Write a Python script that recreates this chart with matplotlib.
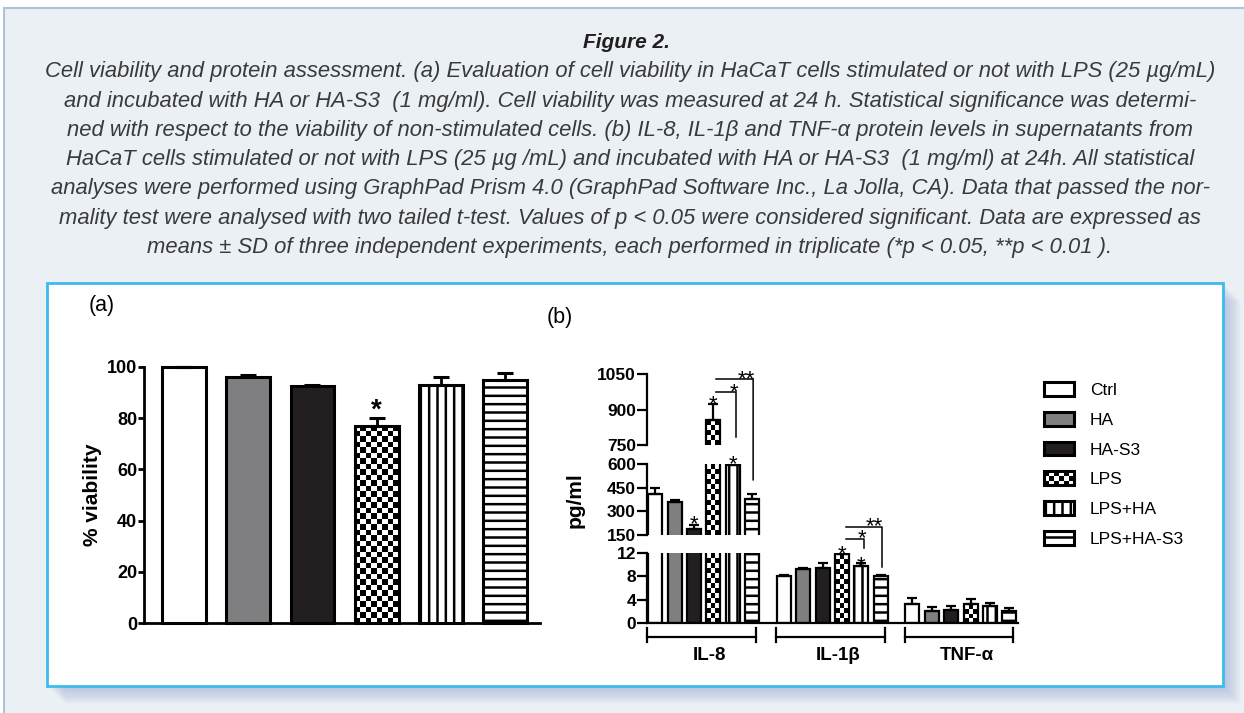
import numpy as np
import matplotlib
matplotlib.use("Agg")
import matplotlib.pyplot as plt
from matplotlib.patches import Rectangle, ConnectionPatch
from matplotlib.legend_handler import HandlerPatch

plt.rcParams['font.family'] = ['Liberation Sans', 'DejaVu Sans']
plt.rcParams['hatch.linewidth'] = 1.8

# data
groups = ["Ctrl", "HA", "HA-S3", "LPS", "LPS+HA", "LPS+HA-S3"]
viability = [100, 96, 92.5, 77, 93, 95]
viability_sd = [0, 1.0, 0.4, 3.0, 3.0, 2.5]

cytokines = ["IL-8", "IL-1β", "TNF-α"]
il8 = [410, 362, 190, 855, 592, 378]
il8_sd = [35, 8, 22, 70, 8, 30]
il1b = [8.1, 9.3, 9.5, 11.8, 9.8, 8.0]
il1b_sd = [0.2, 0.15, 0.8, 0.15, 0.5, 0.2]
tnf = [3.3, 2.0, 2.2, 3.2, 3.0, 2.0]
tnf_sd = [1.0, 0.7, 0.7, 1.0, 0.5, 0.5]

caption = [
    "Cell viability and protein assessment. (a) Evaluation of cell viability in HaCaT cells stimulated or not with LPS (25 µg/mL)",
    "and incubated with HA or HA-S3  (1 mg/ml). Cell viability was measured at 24 h. Statistical significance was determi-",
    "ned with respect to the viability of non-stimulated cells. (b) IL-8, IL-1β and TNF-α protein levels in supernatants from",
    "HaCaT cells stimulated or not with LPS (25 µg /mL) and incubated with HA or HA-S3  (1 mg/ml) at 24h. All statistical",
    "analyses were performed using GraphPad Prism 4.0 (GraphPad Software Inc., La Jolla, CA). Data that passed the nor-",
    "mality test were analysed with two tailed t-test. Values of p < 0.05 were considered significant. Data are expressed as",
    "means ± SD of three independent experiments, each performed in triplicate (*p < 0.05, **p < 0.01 ).",
]

# bar styles per treatment
fills = ['white', '#7f7f82', '#231f20', 'white', 'white', 'white']
hatches = [None, None, None, 'checker', '||', '--']

W, H = 1244, 713
fig = plt.figure(figsize=(W / 100, H / 100), dpi=100)
fig.patch.set_facecolor('white')


def px_rect(left, top, right, bottom):
    return [left / W, 1 - bottom / H, (right - left) / W, (bottom - top) / H]


def prect(left, top, right, bottom, **kw):
    l, b, w, h = px_rect(left, top, right, bottom)
    r = Rectangle((l, b), w, h, transform=fig.transFigure, **kw)
    fig.add_artist(r)
    return r


# page background, shadow and white frame
prect(4, 8, 1260, 730, facecolor='#ebf0f5', edgecolor='#aac3da', lw=1.5, zorder=-10)
for d in range(18, 0, -1):
    prect(47 + d, 283 + d, 1223 + d, 686 + d, facecolor='#8ea5d0', edgecolor='none', alpha=0.035, zorder=-9)
prect(47, 283, 1223, 686, facecolor='white', edgecolor='#3dbbee', lw=2, zorder=-8)

# caption
fig.text(626 / W, 1 - 42 / H, "Figure 2.", ha='center', va='center', fontsize=15,
         fontweight='bold', style='italic', color='#231f20')
for i, line in enumerate(caption):
    fig.text(630 / W, 1 - (72 + 29.2 * i) / H, line, ha='center', va='center',
             fontsize=15.8, style='italic', color='#3a3a3a')


def checker(ax, bar, cell_px):
    x0, w = bar.get_x(), bar.get_width()
    lo, hi = ax.get_ylim()
    y0 = max(bar.get_y(), lo)
    y1 = min(bar.get_y() + bar.get_height(), hi)
    if y1 <= y0:
        return
    p0 = ax.transData.transform((x0, y0))
    p1 = ax.transData.transform((x0 + w, y1))
    nx = max(int(round((p1[0] - p0[0]) / cell_px)), 1)
    ny = max(int(round((p1[1] - p0[1]) / cell_px)), 1)
    grid = np.add.outer(np.arange(ny), np.arange(nx)) % 2
    im = ax.imshow(grid, cmap='gray', vmin=0, vmax=1, extent=(x0, x0 + w, y0, y1),
                   aspect='auto', interpolation='nearest', origin='lower', zorder=2)
    im.set_clip_path(bar)


def style_bars(ax, bars, cell_px):
    for k, b in enumerate(bars):
        i = k % len(groups)
        b.set_facecolor(fills[i])
        if hatches[i] == 'checker':
            b.set_facecolor('none')
            b.set_zorder(3)
            checker(ax, b, cell_px)
        elif hatches[i]:
            b.set_hatch(hatches[i])


def star(ax, x, y, s, size, bold=False):
    ax.annotate(s, (x, y), xytext=(0, -0.57 * size), textcoords='offset points',
                ha='center', va='baseline', fontsize=size,
                fontweight='bold' if bold else 'normal', annotation_clip=False)


def bold_ticks(ax, size):
    for t in ax.get_yticklabels():
        t.set_fontweight('bold')
        t.set_fontsize(size)


# ---------------- panel (a)
ax_a = fig.add_axes(px_rect(144, 367, 540, 623))
ax_a.set_facecolor('none')
xa = np.arange(len(groups))
ax_a.set_xlim(-0.62, 5.54)
ax_a.set_ylim(0, 100)
bars_a = ax_a.bar(xa, viability, width=0.68, edgecolor='black', linewidth=2.2,
                  clip_on=False, zorder=2)
style_bars(ax_a, bars_a, 5.5)
ax_a.errorbar(xa, viability, yerr=[np.zeros(len(xa)), viability_sd], fmt='none',
              ecolor='black', elinewidth=2, capsize=6, capthick=2.2, clip_on=False, zorder=4)
star(ax_a, xa[3], 86.3, "*", 20, bold=True)
ax_a.set_yticks([0, 20, 40, 60, 80, 100])
ax_a.set_xticks([])
for s in ['top', 'right']:
    ax_a.spines[s].set_visible(False)
for s in ['left', 'bottom']:
    ax_a.spines[s].set_linewidth(2)
ax_a.tick_params(axis='y', direction='out', length=4, width=2, pad=1)
bold_ticks(ax_a, 13)
fig.text(92 / W, 1 - 495 / H, "% viability", rotation=90, ha='center', va='center',
         fontsize=15, fontweight='bold')
fig.text(102 / W, 1 - 305 / H, "(a)", ha='center', va='center', fontsize=15.5)

# ---------------- panel (b), broken y axis
ax_bot = fig.add_axes(px_rect(647, 553, 1018, 623))
ax_mid = fig.add_axes(px_rect(647, 464, 1018, 535))
ax_top = fig.add_axes(px_rect(647, 374, 1018, 445))
axes_b = [ax_bot, ax_mid, ax_top]
limits = [(0, 12), (150, 600), (750, 1050)]
tick_sets = [[0, 4, 8, 12], [150, 300, 450, 600], [750, 900, 1050]]

xg = np.arange(len(cytokines))[:, None] * 6.63 + np.arange(len(groups))[None, :]
xb = xg.ravel()
vb = np.array([il8, il1b, tnf]).ravel()
sb = np.array([il8_sd, il1b_sd, tnf_sd]).ravel()

for ax, lim, ticks in zip(axes_b, limits, tick_sets):
    ax.set_facecolor('none')
    ax.set_xlim(-0.42, 18.7)
    ax.set_ylim(lim)
    bars = ax.bar(xb, vb, width=0.72, edgecolor='black', linewidth=1.6, zorder=2)
    style_bars(ax, bars, 5)
    ax.errorbar(xb, vb, yerr=[np.zeros(len(xb)), sb], fmt='none', ecolor='black',
                elinewidth=1.6, capsize=3.5, capthick=1.6, zorder=4)
    ax.set_yticks(ticks)
    ax.set_xticks([])
    for s in ['top', 'right', 'bottom']:
        ax.spines[s].set_visible(False)
    ax.spines['left'].set_linewidth(1.6)
    ax.tick_params(axis='y', direction='out', length=7, width=1.6, pad=1)
    bold_ticks(ax, 12.5)
ax_bot.spines['bottom'].set_visible(True)
ax_bot.spines['bottom'].set_linewidth(1.6)

# significance marks, IL-8
lw_sig = 1.1
star(ax_mid, xg[0, 2], 258, "*", 16)
star(ax_top, xg[0, 3], 949, "*", 16)
star(ax_mid, xg[0, 4], 644, "*", 16)
ax_top.plot([xg[0, 3] + 0.15, xg[0, 4] + 0.18, xg[0, 4] + 0.18], [974, 974, 784],
            color='black', lw=lw_sig, clip_on=False)
star(ax_top, xg[0, 4] + 0.05, 1003, "*", 16)
ax_top.plot([xg[0, 3] + 0.15, xg[0, 5] + 0.05], [1029, 1029], color='black', lw=lw_sig,
            clip_on=False)
fig.add_artist(ConnectionPatch((xg[0, 5] + 0.05, 1029), (xg[0, 5] + 0.05, 498),
                               coordsA=ax_top.transData, coordsB=ax_mid.transData,
                               lw=lw_sig, color='black'))
star(ax_top, xg[0, 5] - 0.3, 1058, "**", 16)

# significance marks, IL-1b
star(ax_bot, xg[1, 3], 12.9, "*", 16)
star(ax_bot, xg[1, 4], 11.1, "*", 16)
ax_bot.plot([xg[1, 3] + 0.2, xg[1, 4] + 0.15, xg[1, 4] + 0.15], [14.4, 14.4, 12.9],
            color='black', lw=lw_sig, clip_on=False)
star(ax_bot, xg[1, 4] + 0.05, 15.6, "*", 16)
ax_bot.plot([xg[1, 3] + 0.2, xg[1, 5] + 0.05, xg[1, 5] + 0.05], [16.5, 16.5, 9.6],
            color='black', lw=lw_sig, clip_on=False)
star(ax_bot, xg[1, 5] - 0.35, 17.7, "**", 16)

# group brackets under the axis
tr = ax_bot.get_xaxis_transform()
for g, name in enumerate(cytokines):
    x0, x1 = xg[g, 0] - 0.4, xg[g, -1] + 0.2
    ax_bot.plot([x0, x1], [-0.2, -0.2], transform=tr, color='black', lw=1.6, clip_on=False)
    ax_bot.plot([x0, x0], [-0.07, -0.27], transform=tr, color='black', lw=1.6, clip_on=False)
    ax_bot.plot([x1, x1], [-0.07, -0.27], transform=tr, color='black', lw=1.6, clip_on=False)
    ax_bot.text((x0 + x1) / 2 + 0.4, -0.46, name, transform=tr, ha='center', va='center',
                fontsize=13.5, fontweight='bold')

fig.text(575 / W, 1 - 500 / H, "pg/ml", rotation=90, ha='center', va='center',
         fontsize=15, fontweight='bold')
fig.text(560 / W, 1 - 317 / H, "(b)", ha='center', va='center', fontsize=15.5)


# legend
class HandlerChecker(HandlerPatch):
    def create_artists(self, legend, orig_handle, xdescent, ydescent, width, height,
                       fontsize, trans):
        arts = []
        nx, ny = 6, 3
        for i in range(nx):
            for j in range(ny):
                if (i + j) % 2 == 0:
                    arts.append(Rectangle((-xdescent + i * width / nx, -ydescent + j * height / ny),
                                          width / nx, height / ny, facecolor='black',
                                          edgecolor='none', transform=trans))
        arts.append(Rectangle((-xdescent, -ydescent), width, height, facecolor='none',
                              edgecolor='black', lw=2.2, transform=trans))
        return arts


handles = []
handler_map = {}
for i, name in enumerate(groups):
    h = Rectangle((0, 0), 1, 1, facecolor=fills[i], edgecolor='black', lw=2.2)
    if hatches[i] == 'checker':
        handler_map[h] = HandlerChecker()
    elif hatches[i]:
        h.set_hatch(hatches[i])
    handles.append(h)

fig.legend(handles, groups, handler_map=handler_map, loc='upper left',
           bbox_to_anchor=(1044 / W, 1 - 382 / H), frameon=False, fontsize=12.5,
           handlelength=1.75, handleheight=0.85, labelspacing=0.8, handletextpad=0.9,
           borderpad=0, borderaxespad=0)

fig.savefig("out.png", dpi=100, facecolor=fig.get_facecolor())
